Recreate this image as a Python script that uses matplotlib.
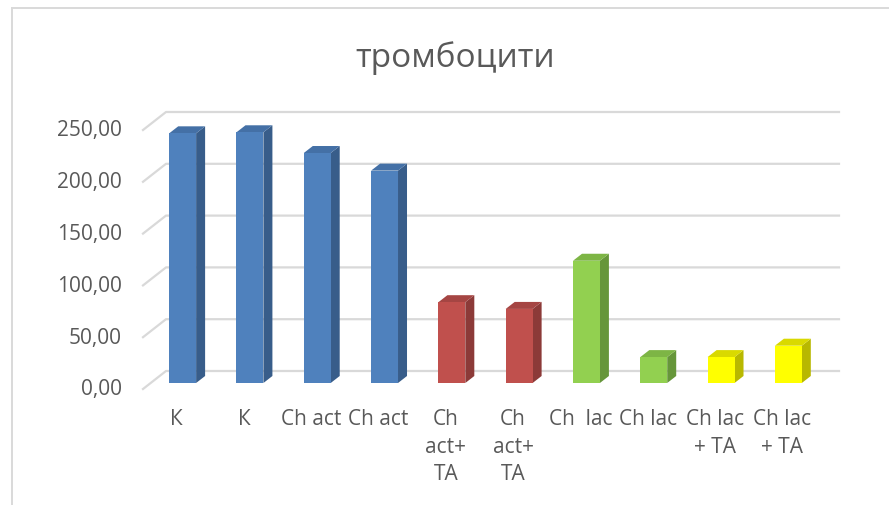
import matplotlib
matplotlib.use('Agg')
import matplotlib.pyplot as plt
from matplotlib.patches import Polygon
from matplotlib.lines import Line2D
import matplotlib.transforms as mtrans

# ---- data ----
categories = ["К", "К", "Ch act", "Ch act", "Ch\nact+\nTA", "Ch\nact+\nTA",
              "Ch  lac", "Ch lac", "Ch lac\n+ TA", "Ch lac\n+ TA"]
values = [241, 242, 222, 205, 78, 71.5, 118, 25, 25, 36]
groups = ["blue", "blue", "blue", "blue", "red", "red", "green", "green", "yellow", "yellow"]
yticks = [0, 50, 100, 150, 200, 250]
ytick_labels = ["0,00", "50,00", "100,00", "150,00", "200,00", "250,00"]
title = "тромбоцити"

# front, side, top colours
palette = {
    "blue":   ("#4F81BD", "#385D8A", "#4470A6"),
    "red":    ("#C0504D", "#8C3A38", "#A54543"),
    "green":  ("#92D050", "#66963A", "#7DB545"),
    "yellow": ("#FFFF00", "#B8B800", "#D9D900"),
}

FONT = ["Open Sans", "DejaVu Sans"]
TXT = "#595959"
GRID = "#D9D9D9"

W, H = 889, 506
fig = plt.figure(figsize=(W / 100, H / 100), dpi=100)
fig.patch.set_facecolor("white")
ax = fig.add_axes([143 / W, (H - 390) / H, 673 / W, 259 / H])
n = len(categories)
ax.set_xlim(-0.5, n - 0.5)
ax.set_ylim(0, 250)
ax.axis("off")

# pixel -> data conversion
p0 = ax.transData.transform((0, 0))
p1 = ax.transData.transform((1, 1))
sx, sy = p1[0] - p0[0], p1[1] - p0[1]

def dx(px):
    return px / sx

def dy(px):
    return px / sy

def off(px, py):
    return mtrans.ScaledTranslation(px / 100, py / 100, fig.dpi_scale_trans)

# back wall / floor depth
wall_x, wall_y = dx(23), dy(18)
# bar placement inside the depth
front_x, front_y = dx(6), dy(6)
depth_x, depth_y = dx(9), dy(7)
bw = 0.40

# gridlines (diagonal on side + back wall)
for t in yticks:
    ax.add_line(Line2D([-0.5, -0.5 + wall_x, n - 0.5 + wall_x],
                       [t, t + wall_y, t + wall_y],
                       color=GRID, lw=1.6, clip_on=False, zorder=1))

# 3D-looking bars
for i, (v, g) in enumerate(zip(values, groups)):
    fc, sc, tc = palette[g]
    xl = i + front_x - bw / 2
    xr = i + front_x + bw / 2
    y0 = front_y
    y1 = v + front_y
    front = Polygon([(xl, y0), (xr, y0), (xr, y1), (xl, y1)], closed=True,
                    facecolor=fc, edgecolor="none", clip_on=False, zorder=3)
    side = Polygon([(xr, y0), (xr + depth_x, y0 + depth_y),
                    (xr + depth_x, y1 + depth_y), (xr, y1)], closed=True,
                   facecolor=sc, edgecolor="none", clip_on=False, zorder=3)
    top = Polygon([(xl, y1), (xr, y1), (xr + depth_x, y1 + depth_y),
                   (xl + depth_x, y1 + depth_y)], closed=True,
                  facecolor=tc, edgecolor="none", clip_on=False, zorder=3)
    for p in (side, top, front):
        ax.add_patch(p)

# y tick labels
for t, lab in zip(yticks, ytick_labels):
    ax.text(-0.5, t, lab, transform=ax.transData + off(-21, 0),
            ha="right", va="center", fontsize=15, color=TXT, family=FONT)

# category labels
for i, lab in enumerate(categories):
    ax.text(i, 0, lab, transform=ax.transData + off(0, -19),
            ha="center", va="top", fontsize=15, color=TXT, family=FONT,
            linespacing=1.42)

# title
fig.text(455 / W, 1 - 58 / H, title, ha="center", va="center",
         fontsize=24, color=TXT, family=FONT)

# chart border (top and left visible)
fig.add_artist(Line2D([11.5 / W, 1.0], [1 - 8.5 / H, 1 - 8.5 / H],
                      transform=fig.transFigure, color=GRID, lw=1.4))
fig.add_artist(Line2D([11.5 / W, 11.5 / W], [0, 1 - 8.5 / H],
                      transform=fig.transFigure, color=GRID, lw=1.4))

fig.savefig("out.png", dpi=100, facecolor="white")
